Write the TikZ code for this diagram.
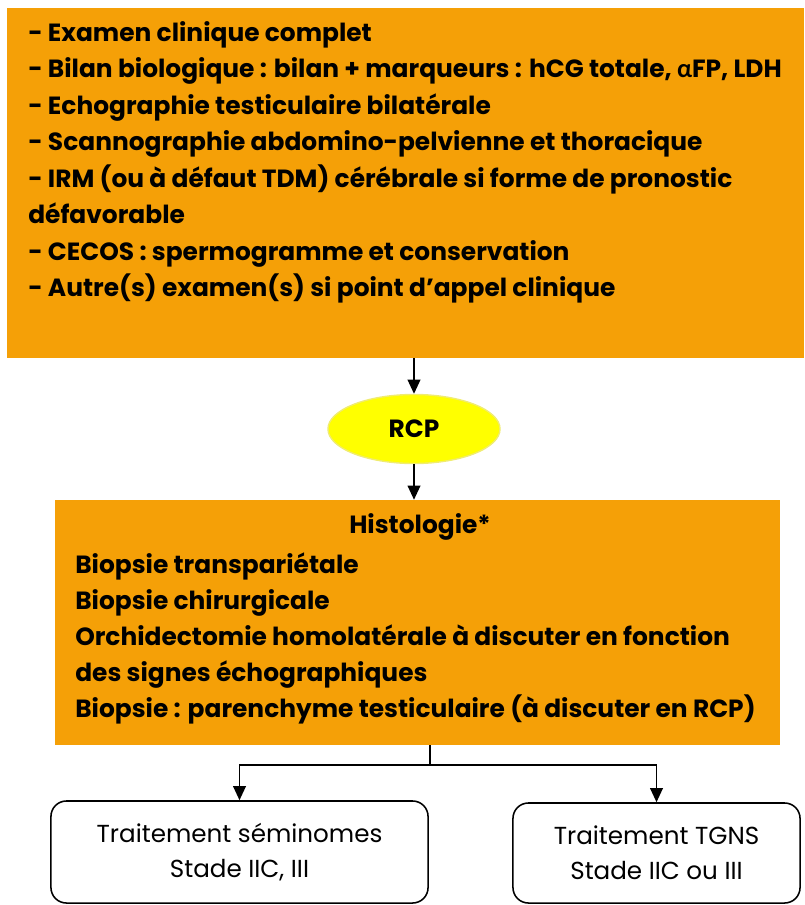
\documentclass[tikz,border=0pt]{standalone}
\usepackage{fontspec}
\setmainfont{Poppins}
\newfontfamily\greekfont{Lato}
\usetikzlibrary{arrows.meta,shapes.geometric,fit}
\definecolor{BoxOrange}{HTML}{F5A007}
\definecolor{RcpYellow}{HTML}{FFFF00}
\definecolor{RcpEdge}{HTML}{F0EC70}
\newcommand{\bigtext}{\bfseries\fontsize{17.7}{25.6}\selectfont}
\newcommand{\listtext}{\bfseries\fontsize{17.7}{25.95}\selectfont}
\newcommand{\smalltext}{\fontsize{17.5}{25}\selectfont}

\begin{document}
\begin{tikzpicture}[x=0.025cm,y=-0.025cm,
  arr/.style={-{Triangle[length=10pt,width=9pt]},line width=1.1pt},
  orangebox/.style={rectangle,fill=BoxOrange,inner sep=0pt},
  treatbox/.style={draw,rounded corners=11pt,line width=1.1pt,align=center,
    font=\smalltext}]
  \useasboundingbox (0,0) rectangle (804,905);

  % --- bilan initial ---
  \node[orangebox,fit={(7,8) (804,358)}] (bilan) {};
  \node[anchor=north west,inner sep=0pt,align=left,font=\listtext]
    (bilantxt) at (28,21) {%
    - Examen clinique complet\\
    - Bilan biologique : bilan + marqueurs : hCG totale, {\greekfont α}FP, LDH\\
    - Echographie testiculaire bilatérale\\
    - Scannographie abdomino-pelvienne et thoracique\\
    - IRM (ou à défaut TDM) cérébrale si forme de pronostic\\
    défavorable\\
    - CECOS : spermogramme et conservation\\
    - Autre(s) examen(s) si point d'appel clinique};

  % --- RCP ---
  \node[ellipse,fill=RcpYellow,draw=RcpEdge,line width=1pt,
    minimum width=4.3cm,minimum height=1.725cm,font=\bigtext]
    (rcp) at (414,429) {RCP};

  % --- histologie ---
  \node[orangebox,fit={(55,500) (780,745)}] (histo) {};
  \node[font=\bigtext,inner sep=0pt] (histotitle) at (420,527) {Histologie*};
  \node[anchor=north west,inner sep=0pt,align=left,font=\bigtext]
    (histotxt) at (75,552) {%
    Biopsie transpariétale\\
    Biopsie chirurgicale\\
    Orchidectomie homolatérale à discuter en fonction\\
    des signes échographiques\\
    Biopsie : parenchyme testiculaire (à discuter en RCP)};

  % --- traitements ---
  \node[treatbox,minimum width=9.425cm,minimum height=2.55cm]
    (semi) at (239.5,852) {Traitement séminomes\\Stade IIC, III};
  \node[treatbox,minimum width=7.175cm,minimum height=2.5cm]
    (tgns) at (656.5,853) {Traitement TGNS\\Stade IIC ou III};

  % connectors
  \coordinate (split) at (430,765);
  \draw[arr] (rcp.north |- bilan.south) -- (rcp.north);
  \draw[arr] (rcp.south) -- (rcp.south |- histo.north);
  \draw[line width=1.1pt] (split |- histo.south) -- (split);
  \draw[arr] (split) -| (semi.north);
  \draw[arr] (split) -| (tgns.north);
\end{tikzpicture}
\end{document}
